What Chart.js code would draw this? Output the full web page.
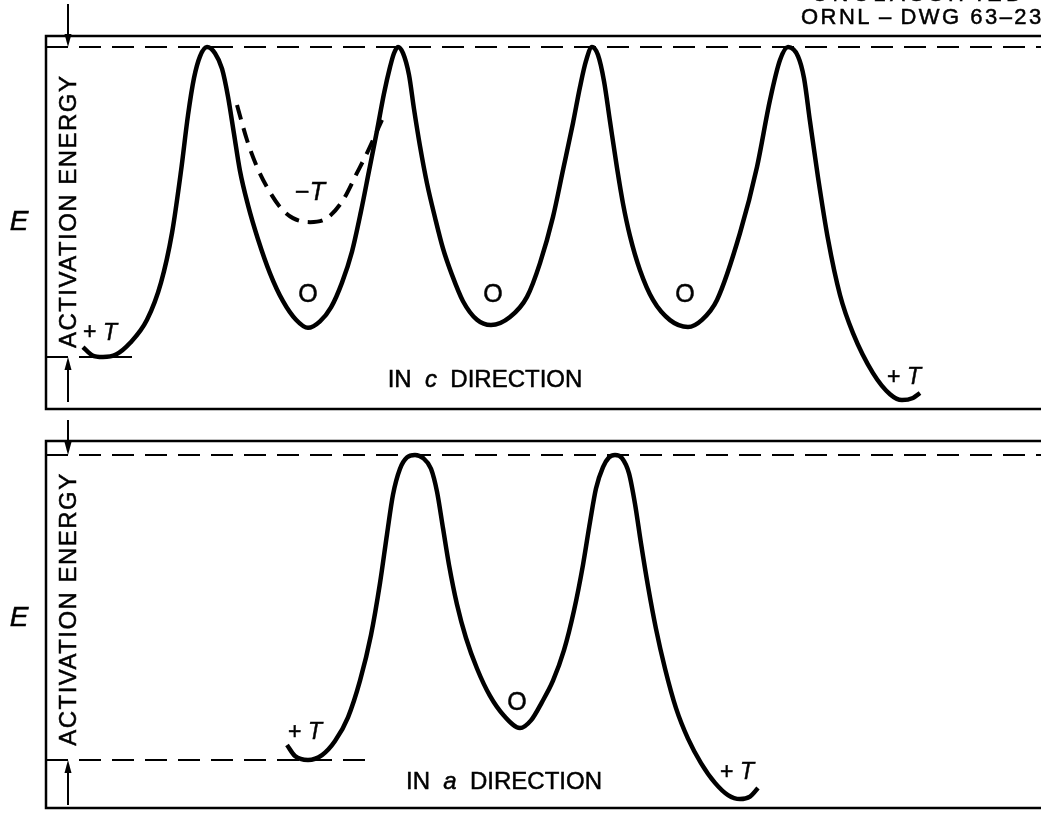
<!DOCTYPE html>
<html>
<head>
<meta charset="utf-8">
<script src="https://cdn.jsdelivr.net/npm/chart.js@4.4.0/dist/chart.umd.min.js"></script>
<style>
  html, body { margin: 0; padding: 0; background: #fff; overflow: hidden; }
  #wrap { position: relative; width: 1041px; height: 813px; }
  canvas { position: absolute; left: 0; }
  #cTop { top: 0; }
  #cBot { top: 412px; }
</style>
</head>
<body>
<div id="wrap">
  <canvas id="cTop" width="1041" height="412"></canvas>
  <canvas id="cBot" width="1041" height="401"></canvas>
</div>
<script>
// energy scale: 10 = activation (peak) level, 0 = +T level
// position: arbitrary units along the direction
const PEAK_LEVEL = 10
const LOW_LEVEL = 0

// in c direction, solid curve
const cPos = [3.7, 4.6, 5.7, 7.0, 8.4, 10.1, 11.5, 12.6, 13.5, 14.2, 14.8, 15.4, 16.1,
  16.9, 17.6, 18.2, 18.8, 19.4, 20.2, 21.2, 22.4, 23.7, 25.0, 26.2,
  27.4, 28.5, 29.6, 30.6, 31.5, 32.3, 33.1, 33.8, 34.4, 34.8, 35.2,
  35.7, 36.3, 36.8, 37.4, 38.1, 38.9, 39.7, 40.6, 41.7, 43.1, 44.5,
  46.4, 48.1, 49.4, 50.7, 51.7, 52.7, 53.4, 54.0, 54.6,
  55.2, 55.8, 56.4, 57.1, 57.7, 58.4, 59.4, 60.7, 62.4, 64.2,
  65.6, 67.1, 69.4, 71.1, 72.4, 73.4, 74.2,
  75.2, 75.8, 76.4, 77.2, 78.2, 79.4, 80.7, 82.7, 84.4, 85.6, 86.7, 87.4]
const cEnergy = [0.32, 0.06, 0, 0.08, 0.45, 1.2, 2.4, 4.0, 6.0, 7.8, 9.0, 9.7, 10,
  9.8, 9.3, 8.4, 7.2, 6.0, 4.9, 3.8, 2.7, 1.8, 1.2, 0.94,
  1.15, 1.6, 2.4, 3.4, 4.7, 6.0, 7.3, 8.5, 9.35, 9.8, 10,
  9.8, 9.1, 8.0, 6.8, 5.6, 4.5, 3.5, 2.65, 1.8, 1.2, 1.03,
  1.29, 1.94, 3.03, 4.52, 6.03, 7.55, 8.71, 9.55, 10,
  9.74, 8.9, 7.6, 6.1, 4.95, 3.9, 2.8, 1.84, 1.19, 0.97,
  1.2, 1.84, 4.0, 6.13, 8.29, 9.58, 10,
  9.7, 9.0, 7.6, 5.8, 3.8, 2.0, 0.77, -0.52, -1.2, -1.39, -1.32, -1.16]

// in c direction, dashed -T well
const cMinusPos = [19.1, 20.1, 21.1, 22.1, 23.4, 24.7, 26.4, 28.1, 29.7, 31.1, 32.1, 33.6]
const cMinusEnergy = [8.13, 7.0, 6.13, 5.48, 4.84, 4.48, 4.35, 4.48, 5.06, 5.94, 6.58, 7.65]

// in a direction
const aPos = [24.1, 24.9, 26.2, 27.6, 28.9, 30.2, 31.4, 32.5, 33.4, 34.1, 34.7, 35.4, 36.1, 36.9,
  37.7, 38.5, 39.1, 39.7, 40.3, 41.1, 42.0, 43.1, 44.4, 45.8, 47.4,
  48.5, 49.6, 50.7, 51.8, 52.8, 53.7, 54.4, 55.0, 55.7, 56.3, 56.9,
  57.6, 58.3, 58.9, 59.5, 60.2, 61.0, 61.9, 63.0, 64.2, 65.5, 66.9, 68.2, 69.4, 70.4, 71.2]
const aEnergy = [0.49, 0.13, 0, 0.16, 0.62, 1.4, 2.6, 4.1, 5.8, 7.4, 8.7, 9.55, 9.92, 10,
  9.9, 9.55, 8.8, 7.6, 6.4, 5.1, 4.0, 3.0, 2.1, 1.45, 1.05,
  1.3, 1.9, 2.6, 3.6, 4.9, 6.4, 7.8, 8.9, 9.6, 9.92, 10,
  9.9, 9.4, 8.4, 7.1, 5.7, 4.3, 3.0, 1.7, 0.7, -0.1, -0.75, -1.15, -1.28, -1.2, -0.92]

const FONT = '"Liberation Sans", Arial, sans-serif'

function pts(xs, ys) {
  return xs.map((v, i) => ({ x: v, y: ys[i] }))
}

function drawRich(ctx, segs, cx, cy, size) {
  const fonts = segs.map(s => (s.it ? 'italic ' : '') + size + 'px ' + FONT)
  let w = 0
  const ws = segs.map((s, i) => { ctx.font = fonts[i]; const m = ctx.measureText(s.t).width; w += m; return m })
  let px = cx - w / 2
  ctx.textAlign = 'left'
  ctx.textBaseline = 'middle'
  ctx.lineWidth = 0.5
  segs.forEach((s, i) => {
    ctx.font = fonts[i]
    ctx.fillText(s.t, px, cy)
    ctx.strokeText(s.t, px, cy)
    px += ws[i]
  })
}

function arrow(ctx, x, y0, tip) {
  const dir = tip > y0 ? 1 : -1
  ctx.beginPath()
  ctx.moveTo(x, y0)
  ctx.lineTo(x, tip - dir * 10)
  ctx.stroke()
  ctx.beginPath()
  ctx.moveTo(x, tip)
  ctx.lineTo(x - 3.5, tip - dir * 13)
  ctx.lineTo(x + 3.5, tip - dir * 13)
  ctx.closePath()
  ctx.fill()
}

function spacedText(ctx, txt, x, y, target) {
  const w = ctx.measureText(txt).width
  if ('letterSpacing' in ctx) ctx.letterSpacing = Math.max(0, (target - w) / (txt.length - 1)) + 'px'
  ctx.lineWidth = 0.5
  ctx.fillText(txt, x, y)
  ctx.strokeText(txt, x, y)
  if ('letterSpacing' in ctx) ctx.letterSpacing = '0px'
}

function makeFrame(cfg) {
  return {
    id: 'frame',
    afterDatasetsDraw(chart) {
      const ctx = chart.ctx
      const a = chart.chartArea
      const x = chart.scales.x, y = chart.scales.y
      ctx.save()
      ctx.strokeStyle = '#000'
      ctx.fillStyle = '#000'
      // box, right side runs off the sheet
      ctx.lineWidth = 2.5
      ctx.beginPath()
      ctx.moveTo(a.right + 5, a.top)
      ctx.lineTo(a.left, a.top)
      ctx.lineTo(a.left, a.bottom)
      ctx.lineTo(a.right + 5, a.bottom)
      ctx.stroke()

      // activation levels
      const yHi = y.getPixelForValue(PEAK_LEVEL)
      const yLo = y.getPixelForValue(LOW_LEVEL)
      ctx.lineWidth = 2
      ctx.setLineDash([22, 11])
      ctx.beginPath()
      ctx.moveTo(a.left, yHi)
      ctx.lineTo(a.right, yHi)
      ctx.moveTo(a.left, yLo)
      ctx.lineTo(x.getPixelForValue(cfg.lowDashEnd), yLo)
      ctx.stroke()
      ctx.setLineDash([])

      // arrows
      ctx.lineWidth = 2
      const ax = x.getPixelForValue(2.2)
      arrow(ctx, ax, cfg.arrowTop, yHi)
      arrow(ctx, ax, cfg.arrowBottom, yLo)

      // side labels
      drawRich(ctx, [{ t: 'E', it: true }], x.getPixelForValue(-2.7), y.getPixelForValue(cfg.eAt), 28)
      ctx.save()
      ctx.translate(x.getPixelForValue(2.3), y.getPixelForValue(cfg.actAt))
      ctx.rotate(-Math.PI / 2)
      ctx.font = '24px ' + FONT
      ctx.textAlign = 'center'
      ctx.textBaseline = 'middle'
      spacedText(ctx, 'ACTIVATION ENERGY', 0, 0, 272)
      ctx.restore()

      cfg.labels.forEach(l => drawRich(ctx, l.segs, x.getPixelForValue(l.x), y.getPixelForValue(l.y), l.size))
      if (cfg.extra) cfg.extra(ctx)
      ctx.restore()
    }
  }
}

function makeOpts(yMin, yMax, pad) {
  return {
    responsive: false,
    animation: false,
    layout: { padding: pad },
    plugins: { legend: { display: false }, tooltip: { enabled: false } },
    elements: { point: { radius: 0 } },
    scales: {
      x: { type: 'linear', min: 0, max: 99.5, display: false },
      y: { type: 'linear', min: yMin, max: yMax, display: false }
    }
  }
}

const solid = { borderColor: '#000', borderWidth: 4.5, cubicInterpolationMode: 'monotone', fill: false, pointRadius: 0 }

const T = [{ t: '+ ' }, { t: 'T', it: true }]

new Chart(document.getElementById('cTop').getContext('2d'), {
  type: 'line',
  data: {
    datasets: [
      Object.assign({ label: 'c direction', data: pts(cPos, cEnergy) }, solid),
      Object.assign({ label: '-T', data: pts(cMinusPos, cMinusEnergy) }, solid, { borderWidth: 4, borderDash: [15, 9] })
    ]
  },
  options: makeOpts(-1.677, 10.355, { left: 46, top: 36, right: 0, bottom: 3 }),
  plugins: [makeFrame({
    lowDashEnd: 8.6, arrowTop: 4, arrowBottom: 402, eAt: 4.35, actAt: 4.7,
    labels: [
      { segs: T, x: 5.4, y: 0.77, size: 23 },
      { segs: [{ t: 'O' }], x: 26.2, y: 2.0, size: 25 },
      { segs: [{ t: 'O' }], x: 44.7, y: 2.0, size: 25 },
      { segs: [{ t: 'O' }], x: 63.9, y: 2.0, size: 25 },
      { segs: [{ t: '\u2212' }, { t: 'T', it: true }], x: 26.4, y: 5.29, size: 25 },
      { segs: T, x: 85.8, y: -0.65, size: 23 },
      { segs: [{ t: 'IN  ' }, { t: 'c', it: true }, { t: '  DIRECTION' }], x: 43.9, y: -0.74, size: 24 }
    ],
    extra(ctx) {
      ctx.font = '22px ' + FONT
      ctx.textAlign = 'left'
      ctx.textBaseline = 'alphabetic'
      spacedText(ctx, 'UNCLASSIFIED', 812, 1, 210)
      spacedText(ctx, 'ORNL\u2009\u2013\u2009DWG 63\u2013233', 801, 24, 255)
    }
  })]
})

new Chart(document.getElementById('cBot').getContext('2d'), {
  type: 'line',
  data: {
    datasets: [
      Object.assign({ label: 'a direction', data: pts(aPos, aEnergy) }, solid)
    ]
  },
  options: makeOpts(-1.574, 10.459, { left: 46, top: 29, right: 0, bottom: 5 }),
  plugins: [makeFrame({
    lowDashEnd: 32.2, arrowTop: 8, arrowBottom: 393, eAt: 4.66, actAt: 4.95,
    labels: [
      { segs: T, x: 25.9, y: 0.89, size: 23 },
      { segs: [{ t: 'O' }], x: 47.1, y: 1.87, size: 25 },
      { segs: T, x: 69.1, y: -0.43, size: 23 },
      { segs: [{ t: 'IN  ' }, { t: 'a', it: true }, { t: '  DIRECTION' }], x: 45.8, y: -0.72, size: 24 }
    ]
  })]
})
</script>
</body>
</html>
